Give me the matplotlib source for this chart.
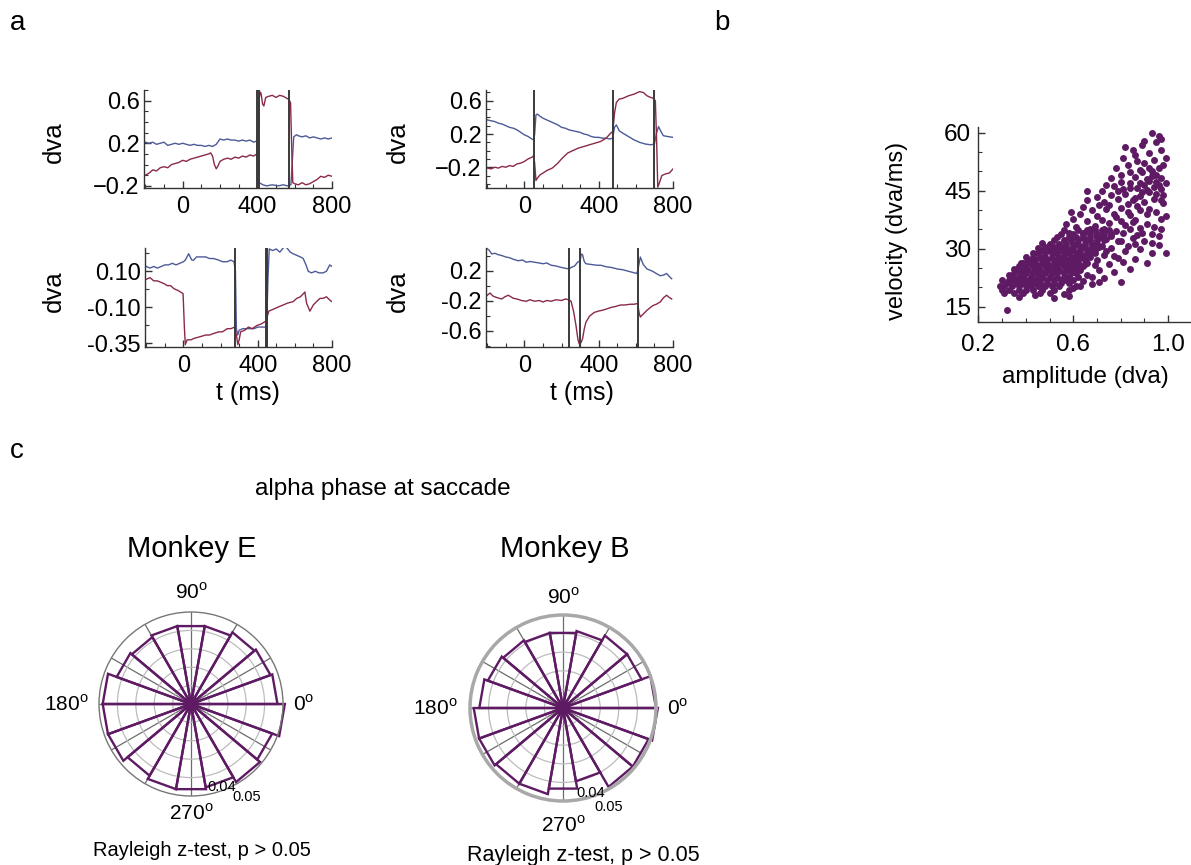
import numpy as np
import matplotlib.pyplot as plt
from matplotlib.ticker import FixedLocator, MultipleLocator, NullFormatter

plt.rcParams['font.family'] = ['Liberation Sans', 'DejaVu Sans']
plt.rcParams['mathtext.fontset'] = 'custom'
plt.rcParams['mathtext.rm'] = 'Liberation Sans'

W, H = 1191, 865

# ---- a: eye position traces, (t in ms, position in dva) ----
trial1_blue = [
    (-200, 0.21), (-180, 0.20), (-160, 0.21), (-140, 0.19), (-120, 0.20), (-100, 0.21), (-80, 0.18), (-60, 0.19),
    (-40, 0.20), (-20, 0.19), (0, 0.20), (20, 0.19), (40, 0.18), (60, 0.19), (80, 0.18), (100, 0.18), (120, 0.17),
    (140, 0.18), (160, 0.17), (180, 0.19), (200, 0.24), (220, 0.23), (240, 0.24), (260, 0.23), (280, 0.23),
    (300, 0.22), (320, 0.23), (340, 0.22), (360, 0.23), (380, 0.21), (395, 0.22), (402, 0.20), (410, -0.17),
    (430, -0.19), (450, -0.20), (480, -0.19), (510, -0.20), (540, -0.19), (560, -0.20), (580, -0.19), (588, 0.05),
    (595, 0.26), (610, 0.28), (620, 0.27), (640, 0.26), (660, 0.27), (680, 0.25), (700, 0.26), (720, 0.25),
    (740, 0.24), (760, 0.25), (780, 0.24), (800, 0.25)]
trial1_red = [
    (-200, -0.10), (-180, -0.08), (-160, -0.05), (-140, -0.06), (-120, -0.03), (-100, -0.02), (-80, -0.03),
    (-60, 0.00), (-40, 0.01), (-20, 0.02), (0, 0.04), (20, 0.03), (40, 0.05), (60, 0.06), (80, 0.07), (100, 0.08),
    (120, 0.09), (140, 0.10), (150, 0.11), (160, 0.08), (170, 0.00), (180, -0.04), (190, -0.01), (200, 0.03),
    (220, 0.05), (240, 0.06), (260, 0.05), (280, 0.07), (300, 0.06), (320, 0.08), (340, 0.07), (360, 0.09),
    (380, 0.08), (398, 0.10), (405, 0.30), (410, 0.62), (415, 0.68), (420, 0.67), (428, 0.57), (435, 0.55),
    (445, 0.63), (460, 0.64), (480, 0.65), (500, 0.63), (520, 0.65), (540, 0.64), (560, 0.62), (570, 0.61),
    (578, 0.58), (585, 0.10), (590, -0.17), (600, -0.18), (620, -0.19), (640, -0.17), (660, -0.19), (680, -0.18),
    (700, -0.16), (720, -0.14), (740, -0.11), (760, -0.12), (780, -0.10), (800, -0.11)]
trial1_sacc = [399, 409, 571]

trial2_blue = [
    (-200, 0.37), (-180, 0.36), (-160, 0.35), (-140, 0.33), (-120, 0.32), (-100, 0.30), (-80, 0.28), (-60, 0.27),
    (-40, 0.25), (-20, 0.22), (0, 0.19), (20, 0.17), (40, 0.14), (50, 0.13), (55, 0.20), (62, 0.43), (70, 0.44),
    (80, 0.42), (100, 0.39), (120, 0.37), (140, 0.35), (160, 0.33), (180, 0.31), (200, 0.28), (220, 0.27),
    (240, 0.25), (260, 0.24), (280, 0.23), (300, 0.22), (320, 0.20), (340, 0.19), (360, 0.17), (380, 0.16),
    (400, 0.16), (420, 0.15), (440, 0.15), (460, 0.14), (475, 0.15), (485, 0.28), (495, 0.31), (510, 0.24),
    (530, 0.21), (560, 0.17), (590, 0.13), (620, 0.10), (650, 0.08), (680, 0.07), (700, 0.08), (710, 0.20),
    (722, 0.29), (735, 0.23), (748, 0.18), (770, 0.17), (800, 0.16)]
trial2_red = [
    (-200, -0.21), (-180, -0.22), (-160, -0.20), (-140, -0.21), (-120, -0.19), (-100, -0.20), (-80, -0.18),
    (-60, -0.19), (-40, -0.16), (-20, -0.15), (0, -0.13), (20, -0.10), (40, -0.08), (50, -0.06), (55, -0.15),
    (62, -0.36), (70, -0.33), (85, -0.29), (100, -0.27), (120, -0.24), (150, -0.21), (180, -0.15), (200, -0.10),
    (232, -0.03), (260, 0.00), (290, 0.03), (320, 0.05), (350, 0.07), (380, 0.09), (410, 0.11), (440, 0.15),
    (464, 0.21), (476, 0.23), (485, 0.45), (495, 0.58), (510, 0.62), (530, 0.63), (560, 0.66), (590, 0.68),
    (620, 0.71), (640, 0.70), (660, 0.66), (680, 0.64), (695, 0.63), (705, 0.60), (712, 0.10), (718, -0.44),
    (725, -0.40), (740, -0.30), (760, -0.28), (780, -0.27), (800, -0.22)]
trial2_sacc = [52, 476, 700]

trial3_blue = [
    (-200, 0.13), (-180, 0.12), (-160, 0.13), (-140, 0.12), (-120, 0.13), (-100, 0.14), (-80, 0.14), (-60, 0.15),
    (-40, 0.14), (-20, 0.15), (0, 0.16), (10, 0.17), (28, 0.21), (45, 0.17), (55, 0.17), (70, 0.19), (91, 0.19),
    (120, 0.19), (140, 0.18), (163, 0.18), (190, 0.17), (210, 0.16), (236, 0.16), (255, 0.17), (272, 0.16),
    (280, 0.10), (285, -0.26), (292, -0.30), (300, -0.27), (320, -0.26), (350, -0.26), (380, -0.26), (400, -0.25),
    (420, -0.25), (440, -0.25), (448, -0.24), (455, 0.05), (462, 0.24), (480, 0.23), (500, 0.24), (519, 0.22),
    (540, 0.25), (555, 0.25), (575, 0.22), (591, 0.21), (610, 0.20), (630, 0.19), (645, 0.18), (660, 0.14),
    (672, 0.10), (690, 0.09), (710, 0.10), (730, 0.09), (752, 0.09), (770, 0.10), (788, 0.14), (800, 0.13)]
trial3_red = [
    (-200, 0.05), (-180, 0.06), (-160, 0.04), (-141, 0.04), (-120, 0.03), (-100, 0.02), (-88, 0.01), (-70, 0.01),
    (-50, -0.01), (-30, -0.02), (-16, -0.03), (-2, -0.04), (5, -0.25), (10, -0.36), (20, -0.33), (40, -0.33),
    (60, -0.32), (91, -0.31), (120, -0.30), (140, -0.30), (163, -0.29), (190, -0.28), (210, -0.28), (236, -0.26),
    (255, -0.26), (277, -0.25), (285, -0.30), (293, -0.36), (300, -0.33), (308, -0.28), (330, -0.27), (350, -0.25),
    (370, -0.26), (396, -0.24), (420, -0.23), (447, -0.21), (452, -0.18), (460, -0.15), (480, -0.14), (500, -0.13),
    (519, -0.12), (540, -0.11), (560, -0.10), (591, -0.09), (610, -0.07), (630, -0.06), (654, -0.03), (663, -0.10),
    (681, -0.15), (700, -0.11), (717, -0.09), (735, -0.07), (752, -0.07), (770, -0.06), (797, -0.09)]
trial3_sacc = [275, 446, 452]

trial4_blue = [
    (-200, 0.49), (-190, 0.47), (-176, 0.42), (-160, 0.43), (-140, 0.41), (-123, 0.40), (-100, 0.38), (-80, 0.37),
    (-60, 0.35), (-34, 0.33), (-10, 0.34), (10, 0.31), (30, 0.32), (55, 0.31), (80, 0.30), (100, 0.29), (120, 0.30),
    (144, 0.27), (170, 0.26), (200, 0.24), (220, 0.23), (240, 0.22), (251, 0.24), (270, 0.26), (286, 0.31),
    (300, 0.33), (306, 0.42), (313, 0.41), (322, 0.32), (331, 0.29), (360, 0.28), (390, 0.27), (411, 0.27),
    (440, 0.25), (470, 0.24), (500, 0.22), (530, 0.21), (560, 0.19), (590, 0.17), (606, 0.16), (615, 0.26),
    (624, 0.38), (640, 0.28), (660, 0.22), (690, 0.19), (710, 0.16), (731, 0.13), (750, 0.14), (766, 0.16),
    (780, 0.12), (793, 0.09)]
trial4_red = [
    (-200, -0.13), (-185, -0.10), (-170, -0.14), (-150, -0.16), (-123, -0.18), (-105, -0.15), (-87, -0.13),
    (-60, -0.17), (-40, -0.18), (-16, -0.20), (10, -0.21), (30, -0.19), (55, -0.21), (80, -0.20), (100, -0.22),
    (120, -0.20), (144, -0.21), (170, -0.19), (200, -0.20), (220, -0.18), (240, -0.19), (251, -0.21), (265, -0.35),
    (278, -0.54), (288, -0.72), (295, -0.78), (305, -0.76), (313, -0.71), (322, -0.58), (331, -0.49), (350, -0.41),
    (375, -0.36), (400, -0.34), (420, -0.33), (446, -0.31), (470, -0.29), (490, -0.28), (517, -0.26), (540, -0.26),
    (570, -0.25), (590, -0.25), (610, -0.24), (617, -0.36), (624, -0.42), (640, -0.38), (660, -0.33), (690, -0.27),
    (710, -0.25), (731, -0.22), (750, -0.16), (766, -0.13), (780, -0.16), (793, -0.18)]
trial4_sacc = [242, 300, 612]

# ---- b: peak velocity vs amplitude ----
# dense core, one row per velocity level: (velocity, amplitudes)
core_rows = [
    (18.6, [0.31, 0.35, 0.39, 0.46, 0.50]),
    (19.4, [0.30, 0.33, 0.37, 0.40, 0.43, 0.47, 0.52, 0.58]),
    (20.3, [0.31, 0.34, 0.37, 0.40, 0.42, 0.45, 0.48, 0.51, 0.54, 0.61]),
    (21.1, [0.32, 0.35, 0.38, 0.40, 0.43, 0.46, 0.49, 0.52, 0.55, 0.58]),
    (22.0, [0.33, 0.36, 0.38, 0.41, 0.44, 0.46, 0.49, 0.52, 0.55, 0.57, 0.60]),
    (22.8, [0.34, 0.37, 0.39, 0.42, 0.45, 0.47, 0.50, 0.53, 0.56, 0.58, 0.62]),
    (23.7, [0.35, 0.38, 0.40, 0.43, 0.45, 0.48, 0.51, 0.53, 0.56, 0.59, 0.61]),
    (24.5, [0.36, 0.39, 0.41, 0.44, 0.46, 0.49, 0.52, 0.54, 0.57, 0.60, 0.63]),
    (25.4, [0.37, 0.40, 0.43, 0.45, 0.48, 0.50, 0.53, 0.56, 0.58, 0.61, 0.64]),
    (26.2, [0.39, 0.42, 0.44, 0.47, 0.49, 0.52, 0.55, 0.57, 0.60, 0.62, 0.66]),
    (27.1, [0.41, 0.44, 0.47, 0.49, 0.52, 0.54, 0.57, 0.59, 0.62, 0.65]),
    (27.9, [0.43, 0.46, 0.48, 0.51, 0.54, 0.56, 0.59, 0.61, 0.64, 0.67]),
    (28.8, [0.45, 0.48, 0.51, 0.53, 0.56, 0.58, 0.61, 0.63, 0.66, 0.69]),
    (29.6, [0.47, 0.50, 0.53, 0.55, 0.58, 0.60, 0.63, 0.66, 0.69]),
    (30.5, [0.48, 0.52, 0.55, 0.57, 0.60, 0.63, 0.65, 0.68, 0.71]),
    (31.3, [0.50, 0.54, 0.57, 0.60, 0.62, 0.65, 0.68, 0.70]),
    (32.2, [0.52, 0.56, 0.59, 0.62, 0.65, 0.67, 0.70, 0.73]),
    (33.0, [0.53, 0.58, 0.61, 0.64, 0.67, 0.70, 0.72]),
    (33.9, [0.55, 0.60, 0.64, 0.67, 0.70, 0.73, 0.76]),
    (34.8, [0.56, 0.62, 0.66, 0.69, 0.72, 0.75]),
]
# sparser saccades around the core: (amplitude, velocity)
sparse_pts = [
    (0.32, 14.2), (0.52, 17.2), (0.37, 17.6), (0.44, 17.9), (0.56, 18.3), (0.64, 21.6), (0.68, 20.8), (0.73, 22.4),
    (0.80, 21.5), (0.77, 23.9), (0.71, 24.6), (0.66, 23.2), (0.75, 26.1), (0.69, 25.8), (0.84, 24.8), (0.86, 27.3),
    (0.91, 26.2), (0.79, 27.6), (0.73, 28.4), (0.82, 29.3), (0.76, 30.2), (0.88, 29.8), (0.93, 31.4), (0.99, 28.8),
    (0.80, 31.9), (0.74, 32.6), (0.85, 32.8), (0.89, 34.1), (0.96, 33.2), (0.78, 34.5), (0.82, 36.2), (0.94, 35.6),
    (0.57, 36.4), (0.60, 37.8), (0.63, 38.9), (0.59, 39.6), (0.66, 37.1), (0.69, 36.0), (0.72, 37.4), (0.75, 36.7),
    (0.78, 38.3), (0.86, 37.5), (0.91, 38.9), (0.97, 37.8), (0.64, 40.8), (0.68, 39.9), (0.71, 41.3), (0.74, 40.2),
    (0.77, 39.1), (0.80, 40.6), (0.83, 39.4), (0.87, 41.1), (0.92, 40.3), (0.98, 41.9), (0.66, 42.6), (0.70, 43.4),
    (0.73, 42.1), (0.76, 43.9), (0.79, 42.8), (0.82, 44.3), (0.85, 42.5), (0.88, 43.6), (0.94, 43.0), (0.66, 45.0),
    (0.72, 44.9), (0.77, 46.2), (0.81, 45.4), (0.84, 47.0), (0.87, 45.8), (0.90, 46.6), (0.92, 44.7), (0.95, 47.3),
    (0.97, 45.5), (0.99, 46.9), (0.76, 48.2), (0.80, 49.1), (0.86, 48.5), (0.89, 49.8), (0.91, 48.0), (0.93, 50.2),
    (0.95, 49.0), (0.97, 48.4), (0.92, 47.6), (0.94, 46.0), (0.96, 50.8), (0.98, 51.6), (0.78, 50.9), (0.83, 51.8),
    (0.88, 50.4), (0.90, 52.3), (0.94, 52.9), (0.81, 53.6), (0.86, 54.2), (0.92, 54.8), (0.97, 55.5), (0.82, 56.4),
    (0.89, 56.9), (0.95, 57.6), (0.97, 58.3), (0.93, 60.0), (0.96, 59.2), (0.85, 55.6), (0.90, 58.0), (0.99, 53.4),
    (0.98, 43.8), (0.99, 38.5), (0.96, 31.0), (0.93, 29.0), (0.91, 36.4), (0.87, 33.6), (0.84, 35.0),
    (0.62, 27.5), (0.67, 28.9), (0.70, 27.2), (0.72, 30.8), (0.74, 29.5), (0.70, 33.5), (0.73, 35.2), (0.76, 33.4),
    (0.79, 32.0), (0.77, 28.1), (0.81, 26.5), (0.83, 30.6), (0.86, 31.2), (0.81, 34.0), (0.85, 36.8), (0.88, 35.4),
    (0.80, 37.2), (0.84, 38.7), (0.88, 39.9), (0.90, 42.2), (0.86, 43.1), (0.83, 41.6), (0.79, 44.9), (0.74, 46.6),
    (0.84, 45.7), (0.88, 47.1), (0.91, 45.1), (0.93, 48.9), (0.96, 46.5), (0.95, 44.3), (0.97, 42.7), (0.89, 44.6),
    (0.92, 50.9), (0.87, 52.6), (0.84, 49.8), (0.80, 47.4), (0.75, 41.4), (0.70, 38.6), (0.67, 35.0), (0.64, 34.2),
    (0.61, 35.6), (0.58, 34.0), (0.95, 39.6), (0.93, 33.9), (0.90, 31.9), (0.97, 35.0), (0.62, 24.7), (0.65, 26.0),
    (0.68, 22.7), (0.71, 21.3), (0.60, 19.8), (0.63, 20.3), (0.58, 17.8), (0.29, 20.4), (0.30, 21.8), (0.33, 23.2),
    (0.35, 24.8), (0.38, 26.3), (0.40, 27.8), (0.43, 29.0), (0.45, 30.3), (0.47, 31.5),
]

# ---- c: alpha phase at saccade onset, 20 deg bins starting at 0 deg ----
bin_width = 20
monkey_e = [0.047, 0.046, 0.045, 0.043, 0.043, 0.043, 0.042, 0.043, 0.048,
            0.048, 0.048, 0.045, 0.047, 0.047, 0.046, 0.049, 0.047, 0.051]
monkey_b = [0.050, 0.045, 0.045, 0.042, 0.041, 0.041, 0.042, 0.043, 0.045,
            0.048, 0.048, 0.047, 0.047, 0.044, 0.040, 0.049, 0.049, 0.051]

BLUE = '#4d5a98'
RED = '#8a2a48'
PURPLE = '#5e1a63'
AXC = '#333333'


def box(left, top, right, bottom):
    return [left / W, 1 - bottom / H, (right - left) / W, (bottom - top) / H]


def ftext(x, y, s, **kw):
    fig.text(x / W, 1 - y / H, s, ha=kw.pop('ha', 'center'), va=kw.pop('va', 'center'), **kw)


def style_axes(ax):
    for side in ['top', 'right']:
        ax.spines[side].set_visible(False)
    for side in ['left', 'bottom']:
        ax.spines[side].set_color(AXC)
        ax.spines[side].set_linewidth(1.0)
    ax.tick_params(which='both', direction='in', color=AXC, labelsize=17)
    ax.tick_params(which='major', length=5, width=1.0)
    ax.tick_params(which='minor', length=3, width=0.8)


def trace_panel(rect, blue, red, saccades, ylim, yticks, ylabels, yminor):
    ax = fig.add_axes(rect)
    t, v = np.array(blue).T
    ax.plot(t, v, color=BLUE, lw=1.0)
    t, v = np.array(red).T
    ax.plot(t, v, color=RED, lw=1.0)
    for s in saccades:
        ax.axvline(s, color='#3a3a3a', lw=1.4)
    ax.set_xlim(-207, 800)
    ax.set_ylim(*ylim)
    ax.xaxis.set_major_locator(FixedLocator([0, 400, 800]))
    ax.xaxis.set_minor_locator(MultipleLocator(100))
    ax.yaxis.set_major_locator(FixedLocator(yticks))
    ax.set_yticklabels(ylabels)
    ax.yaxis.set_minor_locator(FixedLocator(yminor))
    style_axes(ax)
    ax.tick_params(axis='x', pad=6)
    ax.tick_params(axis='y', pad=3)
    return ax


fig = plt.figure(figsize=(W / 100, H / 100), dpi=100)

trace_panel(box(144, 90, 332, 188), trial1_blue, trial1_red, trial1_sacc, (-0.22, 0.70),
            [-0.2, 0.2, 0.6], ['\u22120.2', '0.2', '0.6'], np.arange(-0.2, 0.71, 0.1))
trace_panel(box(486, 90, 673, 188), trial2_blue, trial2_red, trial2_sacc, (-0.45, 0.73),
            [-0.2, 0.2, 0.6], ['\u22120.2', '0.2', '0.6'], np.arange(-0.4, 0.71, 0.1))
trace_panel(box(145, 248, 332, 347), trial3_blue, trial3_red, trial3_sacc, (-0.375, 0.246),
            [-0.35, -0.125, 0.10], ['-0.35', '-0.10', '0.10'], [-0.2375, -0.0125, 0.2125])
trace_panel(box(486, 248, 673, 347), trial4_blue, trial4_red, trial4_sacc, (-0.82, 0.50),
            [-0.6, -0.2, 0.2], ['-0.6', '-0.2', '0.2'], [-0.8, -0.4, 0.0, 0.4])

for x, y in [(54, 142), (398, 142), (54, 291), (398, 291)]:
    ftext(x, y, 'dva', rotation=90, fontsize=18.5)
ftext(248, 393, 't (ms)', fontsize=18)
ftext(582, 393, 't (ms)', fontsize=18)

# main sequence scatter
ax_b = fig.add_axes(box(978.3, 126.7, 1191, 321.7))
amp = [a for v, row in core_rows for a in row] + [p[0] for p in sparse_pts]
vel = [v for v, row in core_rows for a in row] + [p[1] for p in sparse_pts]
ax_b.scatter(amp, vel, s=25, color=PURPLE, linewidths=0)
ax_b.set_xlim(0.2, 1.096)
ax_b.set_ylim(11.1, 61.6)
ax_b.xaxis.set_major_locator(FixedLocator([0.2, 0.6, 1.0]))
ax_b.set_xticklabels(['0.2', '0.6', '1.0'])
ax_b.xaxis.set_minor_locator(MultipleLocator(0.1))
ax_b.yaxis.set_major_locator(FixedLocator([15, 30, 45, 60]))
ax_b.yaxis.set_minor_locator(MultipleLocator(5))
style_axes(ax_b)
ax_b.tick_params(labelsize=17.5)
ax_b.tick_params(axis='x', pad=9)
ax_b.tick_params(axis='y', pad=5)
ftext(897, 231, 'velocity (dva/ms)', rotation=90, fontsize=17)
ftext(1085, 377, 'amplitude (dva)', fontsize=17.5)


def rose_panel(rect, density, spine_color, spine_lw, labels_r):
    ax = fig.add_axes(rect, projection='polar')
    ax.set_facecolor('none')
    ax.set_ylim(0, 0.05)
    ax.set_yticks([0.01, 0.02, 0.03, 0.04])
    ax.set_xticks(np.deg2rad(np.arange(0, 360, 30)))
    ax.xaxis.set_major_formatter(NullFormatter())
    ax.yaxis.set_major_formatter(NullFormatter())
    ax.tick_params(length=0)
    ax.xaxis.grid(True, color='#6c6c6c', lw=0.9)
    ax.yaxis.grid(True, color='#bcbcbc', lw=0.9)
    ax.spines['polar'].set_color(spine_color)
    ax.spines['polar'].set_linewidth(spine_lw)
    lo = np.deg2rad(np.arange(len(density)) * bin_width)
    hi = lo + np.deg2rad(bin_width)
    for a, b, r in zip(lo, hi, density):
        ax.plot([a, a, b, b], [0, r, r, 0], color=PURPLE, lw=1.7,
                solid_joinstyle='miter', clip_on=False)
    r90, r0, r180, r270 = labels_r
    deg = '$^{\\mathrm{o}}$'
    ax.text(np.pi / 2, r90, '90' + deg, ha='center', va='center', fontsize=15)
    ax.text(0, r0, '0' + deg, ha='left', va='center', fontsize=15)
    ax.text(np.pi, r180, '180' + deg, ha='right', va='center', fontsize=15)
    ax.text(1.5 * np.pi, r270, '270' + deg, ha='center', va='center', fontsize=15)
    return ax


ax_e = rose_panel(box(99, 612, 283, 796), monkey_e, '#777777', 1.0, (0.0605, 0.0552, 0.0555, 0.0595))
ax_e.text(np.deg2rad(-70), 0.048, '0.04', ha='center', va='center', fontsize=10.5)
ax_e.text(np.deg2rad(-59), 0.059, '0.05', ha='center', va='center', fontsize=10.5)

ax_mb = rose_panel(box(470, 615, 656, 801), monkey_b, '#a8a8a8', 2.5, (0.0595, 0.0558, 0.0565, 0.063))
ax_mb.text(np.deg2rad(-72), 0.0481, '0.04', ha='center', va='center', fontsize=10.5)
ax_mb.text(np.deg2rad(-65), 0.0586, '0.05', ha='center', va='center', fontsize=10.5)

ftext(192, 549, 'Monkey E', fontsize=21)
ftext(565, 549, 'Monkey B', fontsize=21)
ftext(202, 850, 'Rayleigh z-test, p > 0.05', fontsize=14.5)
ftext(583, 855, 'Rayleigh z-test, p > 0.05', fontsize=15.5)
ftext(383, 489, 'alpha phase at saccade', fontsize=17.5)

ftext(18, 23, 'a', fontsize=20)
ftext(722, 23, 'b', fontsize=20)
ftext(17, 451, 'c', fontsize=20)

fig.savefig('out.png', dpi=100)
